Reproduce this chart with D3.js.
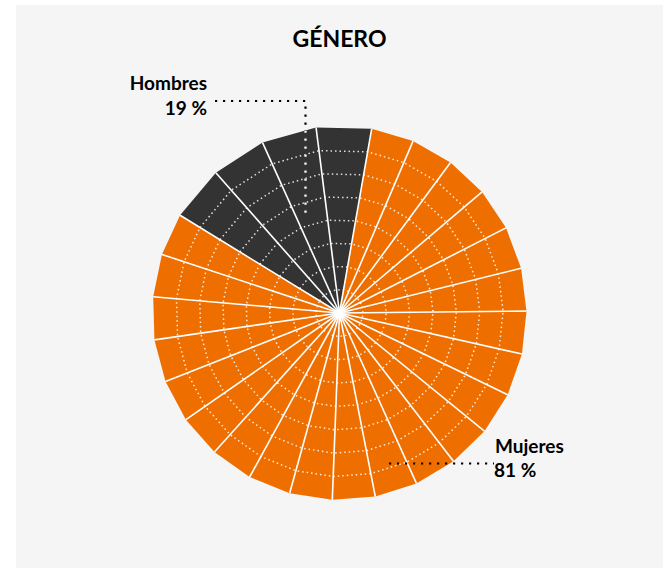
<!DOCTYPE html>
<html>
<head>
<meta charset="utf-8">
<script src="https://cdn.jsdelivr.net/npm/d3@7"></script>
<style>
  html, body { margin: 0; padding: 0; background: #ffffff; }
  svg { display: block; }
  text { font-family: Lato, "Open Sans", sans-serif; font-weight: bold; fill: #000; }
</style>
</head>
<body>
<script>
// ---- data ----
const title = "GÉNERO";
const categories = ["Hombres", "Mujeres"];
const values = [19, 81];
const valueLabels = ["19 %", "81 %"];
const wedgeCounts = [4, 22];          // number of spoke-wedges drawn per category
const gridTicks = [12.5, 25, 37.5, 50, 62.5, 75, 87.5, 100];
const colors = ["#333333", "#EE6F00"];

// ---- layout ----
const W = 669, H = 568;
const cx = 339.5, cy = 313, R = 187;

const svg = d3.select("body").append("svg").attr("width", W).attr("height", H);
svg.append("rect").attr("x", 16).attr("y", 5).attr("width", 647).attr("height", H - 5).attr("fill", "#f5f5f5");

svg.append("text").attr("x", 339.5).attr("y", 46.5).attr("text-anchor", "middle")
  .attr("font-size", 23).text(title);

const rScale = d3.scaleLinear().domain([0, 100]).range([0, R]);

const a0 = -58.5 * Math.PI / 180;
const pie = d3.pie().sort(null).startAngle(a0).endAngle(a0 + 2 * Math.PI);
const arcs = pie(values);

// build wedges
const wedges = [];
arcs.forEach((a, i) => {
  const n = wedgeCounts[i];
  const step = (a.endAngle - a.startAngle) / n;
  for (let k = 0; k < n; k++) {
    wedges.push({ cat: i, s: a.startAngle + k * step, e: a.startAngle + (k + 1) * step });
  }
});
const boundaryAngles = wedges.map(w => w.s);

const g = svg.append("g").attr("transform", `translate(${cx},${cy})`);

function wedgePath(w, r) {
  const p1 = d3.pointRadial(w.s, r), p2 = d3.pointRadial(w.e, r);
  return `M0,0L${p1[0]},${p1[1]}L${p2[0]},${p2[1]}Z`;
}

g.selectAll("path.wedge").data(wedges).join("path")
  .attr("class", "wedge")
  .attr("d", w => wedgePath(w, rScale(100)))
  .attr("fill", w => colors[w.cat]);

// dotted grid rings (polygonal)
const ringLine = d3.lineRadial().angle(d => d[0]).radius(d => d[1]).curve(d3.curveLinearClosed);
g.selectAll("path.ring").data(gridTicks.slice(0, -1)).join("path")
  .attr("class", "ring")
  .attr("d", t => ringLine(boundaryAngles.map(a => [a, rScale(t)])))
  .attr("fill", "none")
  .attr("stroke", "#ffffff")
  .attr("stroke-width", 1.5)
  .attr("stroke-dasharray", "1.5 3")
  .attr("opacity", 0.85);

// spokes
g.selectAll("line.spoke").data(boundaryAngles).join("line")
  .attr("class", "spoke")
  .attr("x1", 0).attr("y1", 0)
  .attr("x2", a => d3.pointRadial(a, rScale(100))[0])
  .attr("y2", a => d3.pointRadial(a, rScale(100))[1])
  .attr("stroke", "#ffffff")
  .attr("stroke-width", 1.6);

// clip for Hombres slice
const defs = svg.append("defs");
defs.append("clipPath").attr("id", "clipH")
  .selectAll("path").data(wedges.filter(w => w.cat === 0)).join("path")
  .attr("transform", `translate(${cx},${cy})`)
  .attr("d", w => wedgePath(w, rScale(100)));

// leader lines
const leaderH = "M215,101L305.5,101L305.5,217";
svg.append("path").attr("d", leaderH).attr("fill", "none")
  .attr("stroke", "#000").attr("stroke-width", 2.2).attr("stroke-dasharray", "2.2 5.8");
svg.append("path").attr("d", leaderH).attr("fill", "none").attr("clip-path", "url(#clipH)")
  .attr("stroke", "#fff").attr("stroke-width", 2.4).attr("stroke-dasharray", "2.2 5.8");
svg.append("path").attr("d", "M389,463.5L494,463.5").attr("fill", "none")
  .attr("stroke", "#000").attr("stroke-width", 2.2).attr("stroke-dasharray", "2.2 5.8");

// labels
svg.append("text").attr("x", 207).attr("y", 90).attr("text-anchor", "end").attr("font-size", 19).text(categories[0]);
svg.append("text").attr("x", 207).attr("y", 115).attr("text-anchor", "end").attr("font-size", 19).text(valueLabels[0]);
svg.append("text").attr("x", 495).attr("y", 452.5).attr("font-size", 19).text(categories[1]);
svg.append("text").attr("x", 494).attr("y", 477).attr("font-size", 19).text(valueLabels[1]);
</script>
</body>
</html>
